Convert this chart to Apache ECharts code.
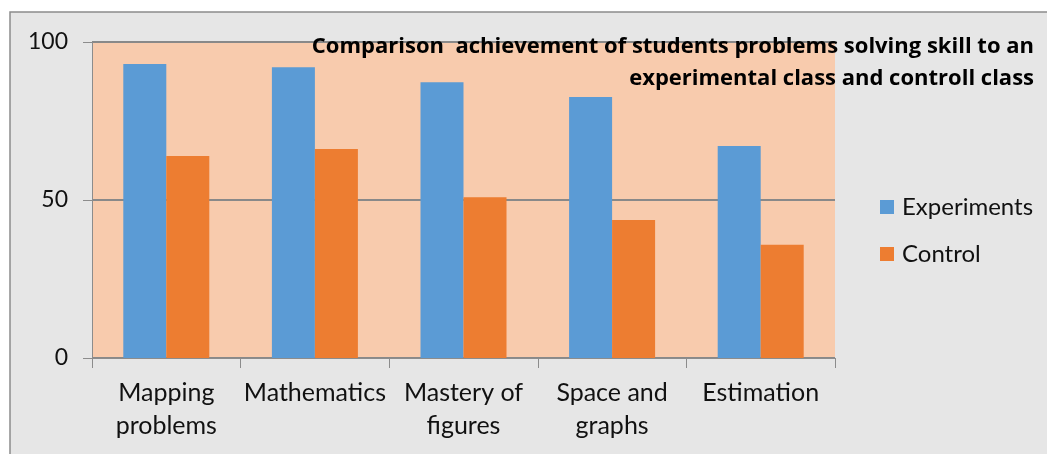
<!DOCTYPE html>
<html>
<head>
<meta charset="utf-8">
<script src="https://cdn.jsdelivr.net/npm/echarts@6/dist/echarts.min.js"></script>
<style>
html,body{margin:0;padding:0;background:#ffffff;}
#chart{width:1047px;height:454px;}
</style>
</head>
<body>
<div id="chart"></div>
<script>
const categories = ['Mapping\nproblems', 'Mathematics', 'Mastery of\nfigures', 'Space and\ngraphs', 'Estimation'];
const experiments = [93, 92, 87.3, 82.6, 67.1];
const control = [63.9, 66.1, 50.9, 43.7, 35.8];
const seriesNames = ['Experiments', 'Control'];
const titleLines = ['Comparison  achievement of students problems solving skill to an', 'experimental class and controll class'];

const FONT = "Lato, 'Liberation Sans Narrow', sans-serif";
const TFONT = "'Open Sans', Lato, sans-serif";
const chart = echarts.init(document.getElementById('chart'), null, {renderer: 'canvas'});
chart.setOption({
  animation: false,
  backgroundColor: '#ffffff',
  graphic: [{
    type: 'rect', z: -10, silent: true,
    shape: {x: 10, y: 12, width: 1100, height: 500},
    style: {fill: '#e6e6e6', stroke: '#8c8c8c', lineWidth: 1.5}
  }, {
    type: 'text', z: 100, silent: true,
    x: 1034, y: 31,
    style: {
      text: titleLines.join('\n'),
      align: 'right', verticalAlign: 'top',
      fontFamily: TFONT, fontWeight: 'bold', fontSize: 22, lineHeight: 32, fill: '#000'
    }
  }],
  legend: {
    orient: 'vertical',
    left: 875, top: 190,
    itemWidth: 14, itemHeight: 14, itemGap: 23,
    icon: 'rect',
    textStyle: {fontFamily: FONT, fontSize: 24, color: '#111', padding: [0, 0, 0, 3]},
    data: seriesNames
  },
  grid: {
    left: 92, right: 212, top: 42, bottom: 96,
    show: true, backgroundColor: '#f8cbad', borderWidth: 0
  },
  xAxis: {
    type: 'category',
    data: categories,
    axisLine: {lineStyle: {color: '#8c8c8c', width: 1}},
    axisTick: {show: true, length: 10, lineStyle: {color: '#8c8c8c'}},
    axisLabel: {fontFamily: FONT, fontSize: 25, lineHeight: 33, color: '#111', margin: 18, interval: 0}
  },
  yAxis: {
    type: 'value', min: 0, max: 100, interval: 50,
    axisLine: {show: true, lineStyle: {color: '#8c8c8c', width: 1}},
    axisTick: {show: true, length: 9, lineStyle: {color: '#8c8c8c'}},
    splitLine: {show: true, lineStyle: {color: '#898989', width: 2}},
    axisLabel: {fontFamily: FONT, fontSize: 23, color: '#111', margin: 24}
  },
  series: [
    {name: seriesNames[0], type: 'bar', data: experiments, barWidth: 43, barGap: '0%', itemStyle: {color: '#5b9bd5'}},
    {name: seriesNames[1], type: 'bar', data: control, barWidth: 43, barGap: '0%', itemStyle: {color: '#ed7d31'}}
  ]
});
</script>
</body>
</html>
